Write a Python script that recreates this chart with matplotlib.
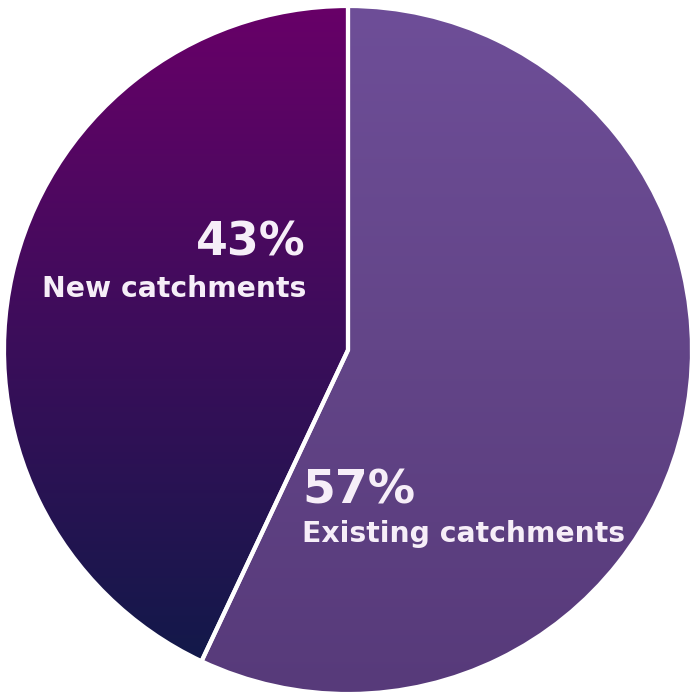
import numpy as np
import matplotlib.pyplot as plt
from matplotlib.colors import LinearSegmentedColormap

# Share of catchments
labels = ['New catchments', 'Existing catchments']
shares = [43, 57]

# gradient colours per slice (top -> bottom)
grad_colors = [
    ['#680068', '#3a0e5a', '#0e1a48'],
    ['#6e4e98', '#634588', '#573a7a'],
]

fig = plt.figure(figsize=(6.96, 6.96), dpi=100)
ax = fig.add_axes([0, 0, 1, 1])

cx, cy, r = 348, 346, 344
wedges, _ = ax.pie(shares, startangle=90, counterclock=True, center=(cx, cy),
                   radius=r, frame=True,
                   wedgeprops=dict(edgecolor='white', linewidth=3))
ax.set_xlim(0, 696)
ax.set_ylim(0, 696)
ax.set_aspect('equal')
ax.axis('off')

# fill each wedge with a vertical gradient
grad = np.linspace(1, 0, 256).reshape(-1, 1)
for w, cols in zip(wedges, grad_colors):
    cmap = LinearSegmentedColormap.from_list('g', cols)
    w.set_facecolor('none')
    im = ax.imshow(grad, cmap=cmap, extent=(cx - r, cx + r, cy - r, cy + r),
                   aspect='auto', origin='lower', zorder=1, vmin=0, vmax=1)
    im.set_clip_path(w)
    w.set_zorder(2)

txt = '#f6eef8'
ax.text(306, 441, f'{shares[0]}%', ha='right', va='baseline', color=txt,
        fontsize=33, fontweight='bold')
ax.text(306, 399, labels[0], ha='right', va='baseline', color=txt,
        fontsize=20.3, fontweight='bold')
ax.text(302, 193, f'{shares[1]}%', ha='left', va='baseline', color=txt,
        fontsize=34, fontweight='bold')
ax.text(302, 154, labels[1], ha='left', va='baseline', color=txt,
        fontsize=20.3, fontweight='bold')

fig.savefig('out.png', dpi=100, facecolor='white')
